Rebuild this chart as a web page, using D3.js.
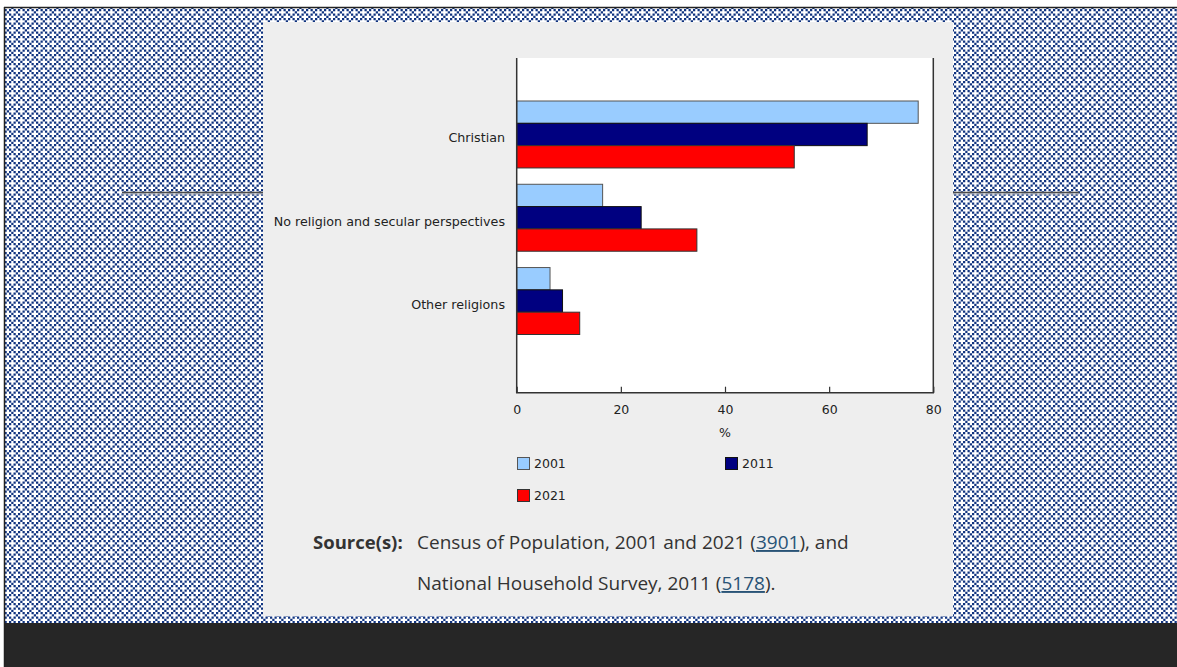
<!DOCTYPE html>
<html>
<head>
<meta charset="utf-8">
<script src="https://cdn.jsdelivr.net/npm/d3@7"></script>
<style>
  html, body { margin: 0; padding: 0; background: #ffffff; }
  svg { display: block; }
</style>
</head>
<body>
<svg id="chart" width="1177" height="667"></svg>
<script>
// Religious composition of the population, Canada
const categories = ["Christian", "No religion and secular perspectives", "Other religions"];
const years = ["2001", "2011", "2021"];
const values2001 = [77.1, 16.5, 6.4];
const values2011 = [67.3, 23.9, 8.8];
const values2021 = [53.3, 34.6, 12.1];
const xTicks = [0, 20, 40, 60, 80];
const axisTitle = "%";
const sourceLabel = "Source(s):";
const sourceLine1 = ["Census of Population, 2001 and 2021 (", "3901", "), and"];
const sourceLine2 = ["National Household Survey, 2011 (", "5178", ")."];

const seriesByYear = { "2001": values2001, "2011": values2011, "2021": values2021 };
const fills = { "2001": "#99ccff", "2011": "#000080", "2021": "#ff0000" };
const strokes = { "2001": "#555555", "2011": "#111111", "2021": "#333333" };

const svg = d3.select("#chart");

// ---- page backdrop: patterned band, dark footer, thin rules ----
const defs = svg.append("defs");
const pat = defs.append("pattern")
  .attr("id", "weave").attr("patternUnits", "userSpaceOnUse")
  .attr("width", 8).attr("height", 8)
  .attr("patternTransform", "scale(1.125)");
pat.append("rect").attr("width", 8).attr("height", 8).attr("fill", "#ffffff");
// 2px checker with a white cross left open every other cell
[[0, 0], [4, 0], [6, 2], [0, 4], [4, 4], [2, 6]]
  .forEach(([px, py]) => pat.append("rect").attr("x", px).attr("y", py)
    .attr("width", 2).attr("height", 2).attr("fill", "#10337f"));

svg.append("rect").attr("x", 5).attr("y", 8).attr("width", 1172).attr("height", 615)
  .attr("fill", "url(#weave)");
svg.append("rect").attr("x", 5).attr("y", 623).attr("width", 1172).attr("height", 44)
  .attr("fill", "#262626");
svg.append("line").attr("x1", 4).attr("x2", 1177).attr("y1", 7.5).attr("y2", 7.5)
  .attr("stroke", "#222").attr("stroke-width", 1.5);
svg.append("line").attr("x1", 4.5).attr("x2", 4.5).attr("y1", 7).attr("y2", 667)
  .attr("stroke", "#222").attr("stroke-width", 1.5);
svg.append("line").attr("x1", 122).attr("x2", 1079).attr("y1", 192.5).attr("y2", 192.5)
  .attr("stroke", "#4a4a4a").attr("stroke-width", 1.6);
svg.append("line").attr("x1", 122).attr("x2", 1079).attr("y1", 194).attr("y2", 194)
  .attr("stroke", "#b8b8b8").attr("stroke-width", 1);

// content panel
svg.append("rect").attr("x", 263).attr("y", 22).attr("width", 690).attr("height", 594)
  .attr("fill", "#eeeeee");

// ---- chart ----
const plot = { left: 516.7, right: 933.3, top: 58, bottom: 392.7 };
const x = d3.scaleLinear().domain([0, 80]).range([plot.left, plot.right]);
const yGroup = d3.scaleBand().domain(categories).range([101, 334.5]).paddingInner(0.196).paddingOuter(0);
const yYear = d3.scaleBand().domain(years).range([0, yGroup.bandwidth()]).padding(0);

const fontChart = "'DejaVu Sans', Verdana, sans-serif";

svg.append("rect").attr("x", plot.left).attr("y", plot.top)
  .attr("width", plot.right - plot.left).attr("height", plot.bottom - plot.top)
  .attr("fill", "#ffffff");

const groups = svg.append("g").selectAll("g").data(categories).join("g")
  .attr("transform", d => `translate(0,${yGroup(d)})`);
groups.selectAll("rect")
  .data((c, i) => years.map(yr => ({ yr, v: seriesByYear[yr][i] })))
  .join("rect")
  .attr("x", x(0))
  .attr("y", d => yYear(d.yr))
  .attr("width", d => x(d.v) - x(0))
  .attr("height", yYear.bandwidth())
  .attr("fill", d => fills[d.yr])
  .attr("stroke", d => strokes[d.yr])
  .attr("stroke-width", 1);

// frame on left, right and bottom
svg.append("path")
  .attr("d", `M${plot.left},${plot.top}V${plot.bottom}H${plot.right}V${plot.top}`)
  .attr("fill", "none").attr("stroke", "#333").attr("stroke-width", 1.5);

// x axis with inward ticks
const xAxis = d3.axisBottom(x).tickValues(xTicks).tickSizeInner(-6).tickSizeOuter(0).tickPadding(12);
const gx = svg.append("g").attr("transform", `translate(0,${plot.bottom})`).call(xAxis);
gx.select(".domain").remove();
gx.selectAll(".tick line").attr("stroke", "#333").attr("stroke-width", 1.2);
gx.selectAll(".tick text").attr("fill", "#222").style("font-family", fontChart).style("font-size", "12.5px");

svg.append("text").attr("x", x(40)).attr("y", 437).attr("text-anchor", "middle")
  .attr("fill", "#222").style("font-family", fontChart).style("font-size", "12.5px").text(axisTitle);

// category labels
svg.append("g").selectAll("text").data(categories).join("text")
  .attr("x", 505)
  .attr("y", d => yGroup(d) + yGroup.bandwidth() / 2 + 8)
  .attr("text-anchor", "end")
  .attr("fill", "#222")
  .style("font-family", fontChart).style("font-size", "12.7px")
  .text(d => d);

// legend
const legendPos = { "2001": [517, 457], "2011": [725, 457], "2021": [517, 489] };
const lg = svg.append("g").selectAll("g").data(years).join("g")
  .attr("transform", d => `translate(${legendPos[d][0]},${legendPos[d][1]})`);
lg.append("rect").attr("x", 0.5).attr("y", 0.5).attr("width", 12).attr("height", 12)
  .attr("fill", d => fills[d]).attr("stroke", d => strokes[d]).attr("stroke-width", 1);
lg.append("text").attr("x", 17).attr("y", 11).attr("fill", "#222")
  .style("font-family", fontChart).style("font-size", "12.5px").text(d => d);

// source note
const fontNote = "'Open Sans', 'Noto Sans', sans-serif";
svg.append("text").attr("x", 313).attr("y", 549).attr("fill", "#333")
  .style("font-family", fontNote).style("font-size", "18.5px").style("font-weight", "bold")
  .text(sourceLabel);

function noteLine(parts, yPos) {
  const t = svg.append("text").attr("x", 417).attr("y", yPos).attr("fill", "#333")
    .style("font-family", fontNote).style("font-size", "19px");
  parts.forEach((p, i) => {
    const ts = t.append("tspan").text(p);
    if (i === 1) ts.attr("fill", "#295376").style("text-decoration", "underline");
  });
}
noteLine(sourceLine1, 549);
noteLine(sourceLine2, 590);
</script>
</body>
</html>
